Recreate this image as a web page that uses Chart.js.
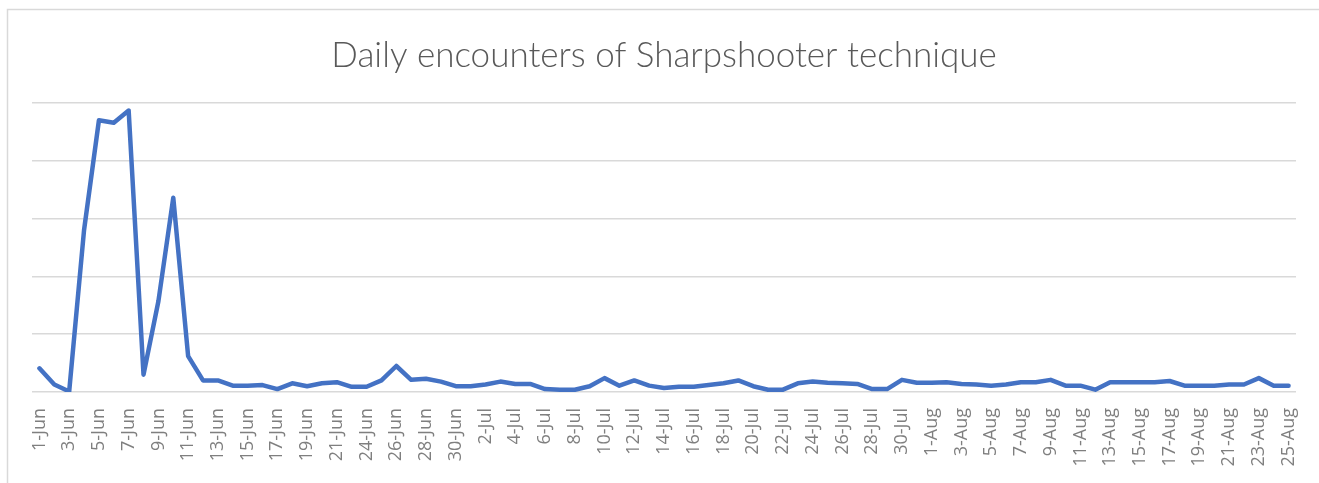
<!DOCTYPE html>
<html>
<head>
<meta charset="utf-8">
<script src="https://cdn.jsdelivr.net/npm/chart.js@4.4.0/dist/chart.umd.min.js"></script>
<style>
  html, body { margin: 0; padding: 0; background: #fff; }
  #wrap { width: 1319px; height: 483px; }
</style>
</head>
<body>
<div id="wrap"><canvas id="enc" width="1319" height="483"></canvas></div>
<script>
var title = 'Daily encounters of Sharpshooter technique';

var days = [
  '1-Jun','2-Jun','3-Jun','4-Jun','5-Jun','6-Jun','7-Jun','8-Jun','9-Jun','10-Jun',
  '11-Jun','12-Jun','13-Jun','14-Jun','15-Jun','16-Jun','17-Jun','18-Jun','19-Jun','20-Jun',
  '21-Jun','23-Jun','24-Jun','25-Jun','26-Jun','27-Jun','28-Jun','29-Jun','30-Jun',
  '1-Jul','2-Jul','3-Jul','4-Jul','5-Jul','6-Jul','7-Jul','8-Jul','9-Jul','10-Jul',
  '11-Jul','12-Jul','13-Jul','14-Jul','15-Jul','16-Jul','17-Jul','18-Jul','19-Jul','20-Jul',
  '21-Jul','22-Jul','23-Jul','24-Jul','25-Jul','26-Jul','27-Jul','28-Jul','29-Jul','30-Jul','31-Jul',
  '1-Aug','2-Aug','3-Aug','4-Aug','5-Aug','6-Aug','7-Aug','8-Aug','9-Aug','10-Aug',
  '11-Aug','12-Aug','13-Aug','14-Aug','15-Aug','16-Aug','17-Aug','18-Aug','19-Aug','20-Aug',
  '21-Aug','22-Aug','23-Aug','24-Aug','25-Aug'
];

// encounters per day (y scale has no labels)
var encounters = [
  41, 13, 1, 280, 470, 466, 487, 30, 157, 336,
  62, 20, 20, 11, 11, 12, 5, 15, 10, 15,
  17, 9, 9, 20, 45, 21, 23, 18, 10,
  10, 13, 18, 14, 14, 5, 4, 4, 10, 24,
  11, 20, 11, 7, 9, 9, 12, 15, 20, 10,
  4, 4, 15, 18, 16, 15, 14, 5, 5, 21, 16,
  16, 17, 14, 13, 11, 13, 17, 17, 21, 11,
  11, 4, 17, 17, 17, 17, 19, 11, 11, 11,
  13, 13, 24, 11, 11
];

var yMax = 500, yStep = 100;

var frame = {
  id: 'frame',
  beforeDraw: function(chart){
    var c = chart.ctx;
    c.save();
    c.fillStyle = '#fff';
    c.fillRect(0, 0, chart.width, chart.height);
    c.strokeStyle = '#d9d9d9';
    c.lineWidth = 1.5;
    c.beginPath();
    c.moveTo(7.5, chart.height + 5);
    c.lineTo(7.5, 9.5);
    c.lineTo(chart.width + 5, 9.5);
    c.stroke();
    c.restore();
  }
};

new Chart(document.getElementById('enc'), {
  type: 'line',
  data: {
    labels: days,
    datasets: [{
      label: 'Encounters',
      data: encounters,
      borderColor: '#4472c4',
      backgroundColor: '#4472c4',
      borderWidth: 4.5,
      borderJoinStyle: 'round',
      borderCapStyle: 'round',
      pointRadius: 0,
      tension: 0
    }]
  },
  options: {
    responsive: false,
    animation: false,
    layout: { padding: { left: 32, right: 23, top: 0, bottom: 0 } },
    plugins: {
      legend: { display: false },
      tooltip: { enabled: false },
      title: {
        display: true,
        text: title,
        color: '#595959',
        font: { family: "'Segoe UI Light', Lato, 'Open Sans', sans-serif", size: 35, weight: '300', lineHeight: 1.2 },
        padding: { top: 35, bottom: 26 }
      }
    },
    scales: {
      x: {
        offset: true,
        grid: { display: false, drawTicks: false },
        border: { display: false },
        ticks: {
          autoSkip: false,
          maxRotation: 90,
          minRotation: 90,
          padding: 16,
          color: '#7f7f7f',
          font: { family: "'Segoe UI', 'Open Sans', sans-serif", size: 18 },
          callback: function(v, i){ return i % 2 === 0 ? days[i] : ''; }
        },
        afterFit: function(s){ s.height = 91; s.paddingLeft = 0; s.paddingRight = 0; }
      },
      y: {
        min: 0,
        max: yMax,
        ticks: { display: false, stepSize: yStep },
        grid: { color: '#d9d9d9', lineWidth: 1.5, drawTicks: false },
        border: { display: false },
        afterFit: function(s){ s.width = 0; s.paddingTop = 0; s.paddingBottom = 0; }
      }
    }
  },
  plugins: [frame]
});
</script>
</body>
</html>
